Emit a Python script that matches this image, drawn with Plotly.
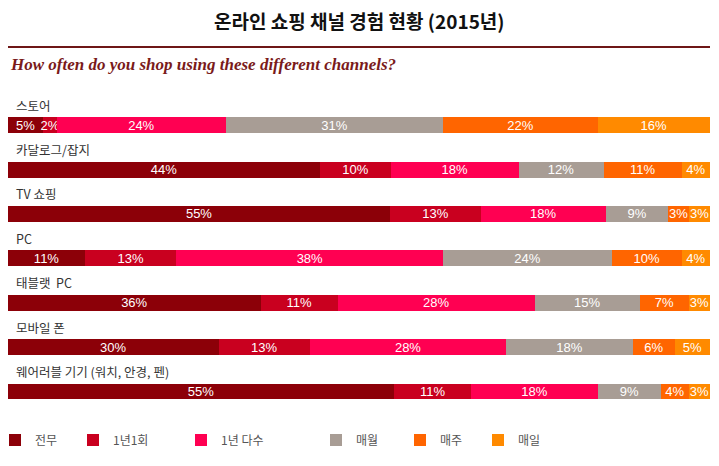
import plotly.graph_objects as go

categories = ["스토어", "카달로그/잡지", "TV 쇼핑", "PC", "태블랫  PC", "모바일 폰", "웨어러블 기기 (워치, 안경, 펜)"]
series_names = ["전무", "1년1회", "1년 다수", "매월", "매주", "매일"]
never = [5, 44, 55, 11, 36, 30, 55]
once_year = [2, 10, 13, 13, 11, 13, 11]
several_year = [24, 18, 18, 38, 28, 28, 18]
monthly = [31, 12, 9, 24, 15, 18, 9]
weekly = [22, 11, 3, 10, 7, 6, 4]
daily = [16, 4, 3, 4, 3, 5, 3]

colors = ["#8C0008", "#C9001F", "#FF0052", "#A89D95", "#FF6500", "#FF8A00"]
legend_px = [-5, 73, 181, 316, 400, 478]

series = [never, once_year, several_year, monthly, weekly, daily]
totals = [sum(s[i] for s in series) for i in range(len(categories))]

L, R, T, B = 8, 9, 103, 43
W, H = 719, 466
pw = W - L - R
ph = H - T - B

fig = go.Figure()
legend_keys = ["legend", "legend2", "legend3", "legend4", "legend5", "legend6"]
for k, (name, vals, col) in enumerate(zip(series_names, series, colors)):
    widths = [v / t * 100 for v, t in zip(vals, totals)]
    fig.add_trace(go.Bar(
        y=categories, x=widths, name=name, orientation="h",
        marker=dict(color=col, line=dict(width=0)),
        text=[f"{v}%" for v in vals],
        textposition="inside", insidetextanchor="middle",
        constraintext="none", textangle=0,
        textfont=dict(color="white", size=13, family="Liberation Sans, Arial"),
        hoverinfo="skip",
        legend=legend_keys[k],
    ))

layout_legends = {}
for k, key in enumerate(legend_keys):
    layout_legends[key] = dict(
        x=(legend_px[k] - L) / pw, xanchor="left",
        y=(ph - (440 - T)) / ph, yanchor="middle",
        orientation="h", bgcolor="rgba(0,0,0,0)",
        font=dict(size=12, color="#555", family="Noto Sans CJK KR"),
    )

annotations = []
for c in categories:
    annotations.append(dict(
        x=0, xref="paper", y=c, yref="y", text=c, showarrow=False,
        xanchor="left", yanchor="middle", xshift=6, yshift=20,
        font=dict(size=12.5, color="#333", family="Noto Sans CJK KR"),
    ))
annotations.append(dict(
    x=0.5, xref="paper", y=(ph + T - 20) / ph, yref="paper",
    text="<b>온라인 쇼핑 채널 경험 현황 (2015년)</b>", showarrow=False,
    xanchor="center", yanchor="middle",
    font=dict(size=19, color="#111", family="Noto Sans CJK KR"),
))
annotations.append(dict(
    x=0, xref="paper", y=(ph + T - 64) / ph, yref="paper",
    text="<b><i>How often do you shop using these different channels?</i></b>",
    showarrow=False, xanchor="left", yanchor="middle",
    font=dict(size=17, color="#7A1A1A", family="Liberation Serif, Georgia, serif"),
))

fig.update_layout(
    width=W, height=H,
    margin=dict(l=L, r=R, t=T, b=B, autoexpand=False),
    barmode="stack", bargap=0.64,
    plot_bgcolor="white", paper_bgcolor="white",
    xaxis=dict(range=[0, 100], visible=False, fixedrange=True),
    yaxis=dict(autorange="reversed", visible=False, fixedrange=True),
    annotations=annotations,
    shapes=[dict(type="line", xref="paper", yref="paper", x0=0, x1=1,
                 y0=(ph + T - 47) / ph, y1=(ph + T - 47) / ph,
                 line=dict(color="#6E1717", width=2))],
    showlegend=True,
    **layout_legends,
)

fig.write_html("out.html", config={"displayModeBar": False},
               post_script="document.body.style.margin='0';document.body.style.padding='0';")
